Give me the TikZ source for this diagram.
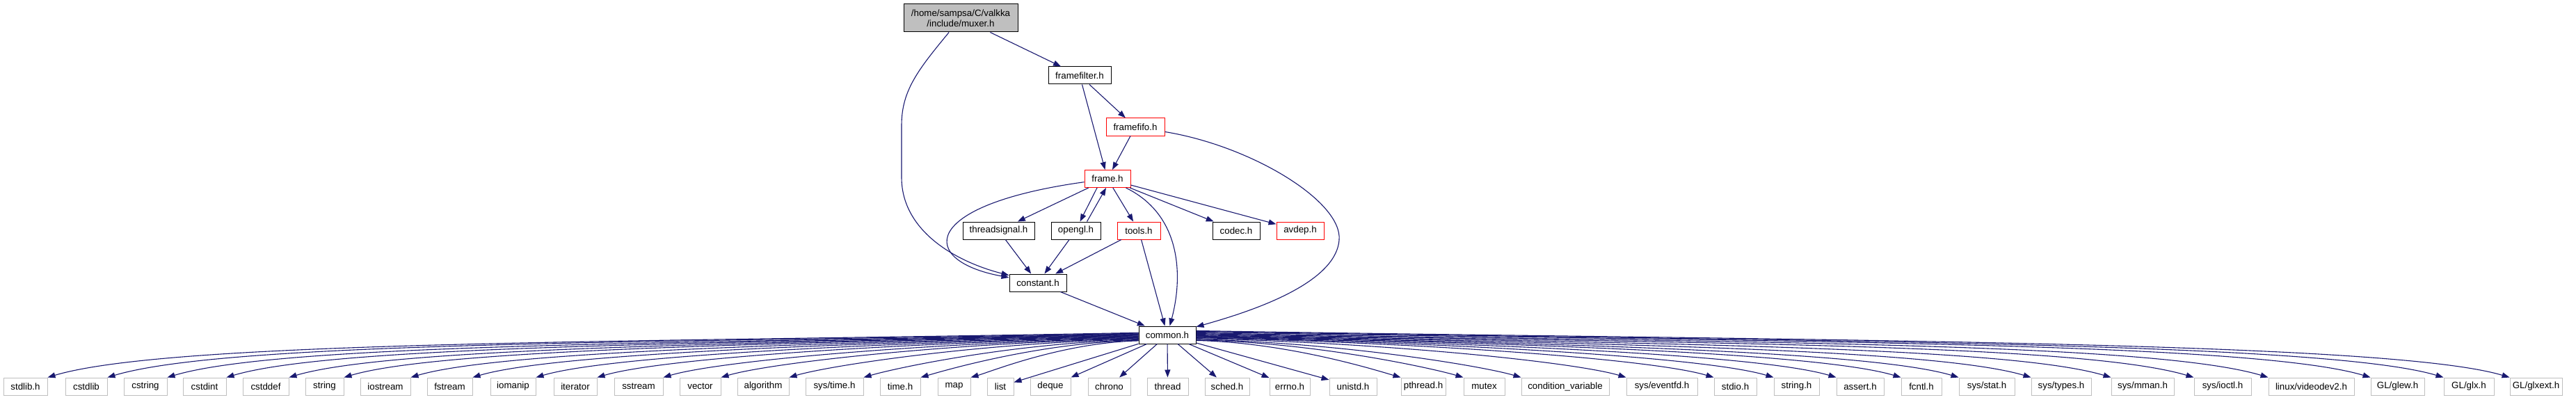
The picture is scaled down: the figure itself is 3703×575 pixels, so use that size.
\documentclass[tikz,border=0pt]{standalone}
\usepackage{fontspec}
\setmainfont{Liberation Sans}
\usepackage{tikz}
\usetikzlibrary{arrows.meta, calc}
\definecolor{edgenavy}{RGB}{25,25,112}
\definecolor{sysgray}{RGB}{191,191,191}
\newcommand{\hfont}{\fontsize{13.33}{15}\selectfont}

\begin{document}
\begin{tikzpicture}[x=1pt, y=-1pt,
    arr/.style={-{Triangle[length=11pt, width=8pt]}, line width=1.1pt, edgenavy},
    every node/.style={rectangle, draw, line width=1pt, fill=white, inner sep=0pt,
                       minimum height=25pt, align=center, font=\hfont},
    hdr/.style={draw=black},
    hdrred/.style={draw=red},
    syshdr/.style={draw=sysgray},
]
\useasboundingbox (0,0) rectangle (3703,575);

\node[hdr, fill=sysgray, minimum width=164pt, minimum height=40pt] (mux) at (1381,26) {/home/sampsa/C/valkka\\/include/muxer.h};
\node[hdr, minimum width=90pt] (filt) at (1552,108.5) {framefilter.h};
\node[hdrred, minimum width=84pt] (fifo) at (1632,182.5) {framefifo.h};
\node[hdrred, minimum width=66pt] (frame) at (1592,257) {frame.h};
\node[hdr, minimum width=103pt] (tsig) at (1435.5,331.5) {threadsignal.h};
\node[hdr, minimum width=71pt] (ogl) at (1546.5,331.5) {opengl.h};
\node[hdrred, minimum width=62pt] (tools) at (1637,331.5) {tools.h};
\node[hdr, minimum width=68pt] (codec) at (1777,331.5) {codec.h};
\node[hdrred, minimum width=68pt] (avdep) at (1869,331.5) {avdep.h};
\node[hdr, minimum width=82pt] (const) at (1492,406.5) {constant.h};
\node[hdr, minimum width=82pt] (common) at (1678,481.5) {common.h};

\draw[arr] (mux) -- (filt);
\draw[arr] (mux) .. controls (1320,100) and (1296,130) .. (1296,180) -- (1296,255)
           .. controls (1296,330) and (1370,375) .. (const);
\draw[arr] (filt) -- (frame);
\draw[arr] (filt) -- (fifo);
\draw[arr] (fifo) -- (frame);
\draw[arr] (fifo) .. controls (1800,210) and (1930,290) .. (1925,345)
           .. controls (1920,410) and (1790,450) .. (common);
\draw[arr] (frame) .. controls (1320,295) and (1320,375) .. (const);
\draw[arr] (frame) -- (tsig);
\draw[arr] ($(frame.south)+(-15,0)$) -- ($(ogl.north)+(6,0)$);
\draw[arr] ($(ogl.north)+(16,0)$) -- ($(frame.south)+(-2,0)$);
\draw[arr] (frame) -- (tools);
\draw[arr] (frame) .. controls (1700,310) and (1700,400) .. (common);
\draw[arr] (frame) -- (codec);
\draw[arr] (frame) -- (avdep);
\draw[arr] (tsig) -- (const);
\draw[arr] (ogl) -- (const);
\draw[arr] (tools) -- (const);
\draw[arr] (tools) -- (common);
\draw[arr] (const) -- (common);

\foreach \cx/\w/\lbl [count=\i] in {36.5/63/stdlib.h, 124/60/cstdlib, 209/62/cstring,
    294/62/cstdint, 382/66/cstddef, 466.5/55/string, 554/72/iostream, 646.5/65/fstream,
    737.5/65/iomanip, 827/62/iterator, 918/70/sstream, 1006.5/59/vector, 1097/74/algorithm,
    1199.5/83/{sys/time.h}, 1294/58/time.h, 1371.5/47/map, 1438/38/list, 1510/58/deque,
    1594.5/61/chrono, 1678.5/59/thread, 1764/64/sched.h, 1854/58/errno.h, 1945/68/unistd.h,
    2046/64/pthread.h, 2133.5/59/mutex, 2250/126/{condition\_variable}, 2389/102/{sys/eventfd.h},
    2494.5/61/stdio.h, 2582.5/65/string.h, 2674/68/assert.h, 2762/58/fcntl.h,
    2856/80/{sys/stat.h}, 2963/86/{sys/types.h}, 3080/90/{sys/mman.h}, 3195/82/{sys/ioctl.h},
    3322.5/123/{linux/videodev2.h}, 3446.5/77/{GL/glew.h}, 3549/72/{GL/glx.h},
    3645.5/75/{GL/glxext.h}}{
  \node[syshdr, minimum width=\w pt] (b\i) at (\cx,555.5) {\lbl};
  \pgfmathsetmacro\dx{\cx-1678}
  \pgfmathtruncatemacro\near{abs(\dx)<290}
  \ifnum\near=1
    \draw[arr] (common) -- (b\i);
  \else
    \pgfmathtruncatemacro\sgn{(\dx>0)*2-1}
    \pgfmathsetmacro\startx{1678+\sgn*41}
    \pgfmathsetmacro\endx{\cx-\sgn*\w/2}
    \pgfmathsetmacro\dist{abs(\endx-\startx)}
    \pgfmathsetmacro\starty{492-0.00875*\dist}
    \pgfmathsetmacro\off{min(0.12*\dist,180)}
    \pgfmathsetmacro\cax{\startx+\sgn*0.45*\dist}
    \pgfmathsetmacro\cay{\starty+min(0.01*\dist,14)}
    \pgfmathsetmacro\cbx{\endx-\sgn*\off}
    \pgfmathsetmacro\cby{543-0.3*\off}
    \ifnum\sgn<0 \def\side{west}\def\corner{north east}\else \def\side{east}\def\corner{north west}\fi
    \draw[arr] (common.\side |- 0,\starty) .. controls (\cax,\cay) and (\cbx,\cby) .. (b\i.\corner);
  \fi
}
\end{tikzpicture}
\end{document}
